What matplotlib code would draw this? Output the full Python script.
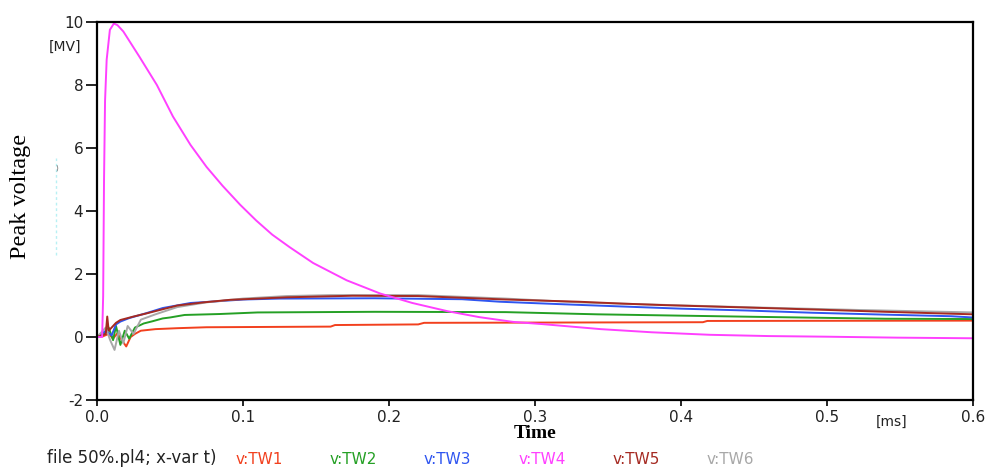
import numpy as np
import matplotlib
matplotlib.use("Agg")
import matplotlib.pyplot as plt
from matplotlib.lines import Line2D

plt.rcParams["axes.unicode_minus"] = False

# time axis in ms, voltages in MV
t_tw1 = [0, 0.004, 0.008, 0.011, 0.014, 0.017, 0.02, 0.023, 0.026, 0.03, 0.04, 0.055,
         0.075, 0.16, 0.163, 0.22, 0.224, 0.415, 0.418, 0.6]
v_tw1 = [0, 0.02, 0.1, -0.05, 0.12, -0.1, -0.3, 0.0, 0.1, 0.2, 0.25, 0.28,
         0.31, 0.33, 0.38, 0.40, 0.45, 0.47, 0.51, 0.52]

t_tw2 = [0, 0.005, 0.008, 0.011, 0.013, 0.016, 0.019, 0.022, 0.026, 0.032, 0.038, 0.045,
         0.05, 0.06, 0.084, 0.11, 0.19, 0.28, 0.343, 0.452, 0.54, 0.6]
v_tw2 = [0, 0.1, 0.3, -0.1, 0.35, -0.25, 0.2, -0.05, 0.3, 0.43, 0.5, 0.59,
         0.62, 0.70, 0.73, 0.78, 0.80, 0.79, 0.72, 0.64, 0.58, 0.57]

t_tw3 = [0, 0.006, 0.01, 0.013, 0.016, 0.022, 0.034, 0.045, 0.064, 0.084, 0.1, 0.125,
         0.19, 0.25, 0.276, 0.297, 0.33, 0.4, 0.446, 0.49, 0.54, 0.585, 0.6]
v_tw3 = [0, 0.2, 0.05, 0.4, 0.49, 0.6, 0.76, 0.92, 1.08, 1.14, 1.19, 1.22,
         1.23, 1.2, 1.12, 1.08, 1.02, 0.9, 0.84, 0.77, 0.71, 0.66, 0.62]

t_tw4 = [0, 0.0035, 0.0042, 0.0048, 0.0055, 0.0066, 0.0088, 0.0115, 0.014, 0.018, 0.029,
         0.041, 0.052, 0.064, 0.075, 0.086, 0.098, 0.109, 0.12, 0.132, 0.148, 0.171,
         0.194, 0.216, 0.24, 0.262, 0.285, 0.305, 0.32, 0.345, 0.38, 0.42, 0.46, 0.5,
         0.548, 0.6]
v_tw4 = [0, 0, 1.3, 5.0, 7.5, 8.8, 9.75, 9.95, 9.9, 9.7, 8.9,
         8.0, 7.0, 6.1, 5.4, 4.8, 4.2, 3.7, 3.25, 2.85, 2.35, 1.8,
         1.38, 1.08, 0.82, 0.63, 0.48, 0.41, 0.35, 0.25, 0.15, 0.07, 0.03, 0.01,
         -0.02, -0.04]

t_tw5 = [0, 0.006, 0.007, 0.008, 0.01, 0.013, 0.016, 0.025, 0.034, 0.055, 0.073, 0.091,
         0.13, 0.175, 0.22, 0.28, 0.33, 0.36, 0.39, 0.45, 0.5, 0.54, 0.6]
v_tw5 = [0, 0.1, 0.65, 0.2, 0.3, 0.45, 0.54, 0.65, 0.75, 1.0, 1.1, 1.18,
         1.26, 1.31, 1.30, 1.19, 1.12, 1.06, 1.01, 0.93, 0.86, 0.80, 0.72]

t_tw6 = [0, 0.006, 0.009, 0.012, 0.015, 0.018, 0.021, 0.025, 0.03, 0.04, 0.055, 0.075,
         0.1, 0.13, 0.16, 0.22, 0.28, 0.33, 0.38, 0.45, 0.52, 0.6]
v_tw6 = [0, 0.3, -0.1, -0.41, 0.2, -0.2, 0.35, 0.1, 0.55, 0.72, 0.95, 1.1,
         1.22, 1.3, 1.33, 1.33, 1.22, 1.1, 1.03, 0.94, 0.86, 0.78]

names = ["v:TW1", "v:TW2", "v:TW3", "v:TW4", "v:TW5", "v:TW6"]
colors = ["#f2401e", "#25a025", "#2f55f0", "#ff40ff", "#a52a22", "#a8a8a8"]
x_ticks = [0.0, 0.1, 0.2, 0.3, 0.4, 0.5, 0.6]
y_ticks = [-2, 0, 2, 4, 6, 8, 10]

series = [(t_tw1, v_tw1), (t_tw2, v_tw2), (t_tw3, v_tw3),
          (t_tw4, v_tw4), (t_tw5, v_tw5), (t_tw6, v_tw6)]

fig = plt.figure(figsize=(9.85, 4.73), dpi=100)
ax = fig.add_axes([0.0985, 0.1543, 0.8893, 0.7992])

# gray first, brown over it, magenta on top
for k in [0, 1, 2, 5, 4, 3]:
    ax.plot(series[k][0], series[k][1], color=colors[k], lw=1.4)

ax.set_xlim(0, 0.6)
ax.set_ylim(-2, 10)
ax.set_xticks(x_ticks)
ax.set_yticks(y_ticks)
ax.set_xticklabels(["%.1f" % x for x in x_ticks])
ax.tick_params(axis="y", direction="out", length=8, width=1.2, pad=2,
               labelsize=11, labelcolor="#222222")
ax.tick_params(axis="x", direction="out", length=4, width=1.2, pad=3,
               labelsize=11, labelcolor="#222222")
for lab in ax.get_xticklabels() + ax.get_yticklabels():
    lab.set_family("DejaVu Sans")
for sp in ax.spines.values():
    sp.set_linewidth(1.6)
    sp.set_color("black")

# unit labels
fig.text(0.050, 0.893, "[MV]", family="DejaVu Sans", fontsize=10, color="#222222")
fig.text(0.889, 0.100, "[ms]", family="DejaVu Sans", fontsize=10, color="#222222")

ax.set_xlabel("Time", family="Liberation Serif", fontsize=14, fontweight="bold", labelpad=0)
fig.text(0.021, 0.585, "Peak voltage", family="Liberation Serif", fontsize=17.5,
         rotation=90, ha="center", va="center")

# faint cyan marker left of the axis
fig.add_artist(Line2D([0.0568, 0.0568], [0.46, 0.665], color="#b8f0f4", lw=1.0,
                      linestyle=(0, (2, 2))))
fig.text(0.0575, 0.645, ")", family="DejaVu Sans", fontsize=5, color="#666666",
         ha="center", va="center")

# footer with trace names
fig.text(0.048, 0.012, "file 50%.pl4; x-var t)", family="DejaVu Sans",
         fontsize=12, color="#222222", va="bottom")
for i, (nm, c) in enumerate(zip(names, colors)):
    fig.text(0.2395 + i * 0.0955, 0.012, nm, family="DejaVu Sans",
             fontsize=11, color=c, va="bottom")

fig.savefig("out.png", dpi=100)
